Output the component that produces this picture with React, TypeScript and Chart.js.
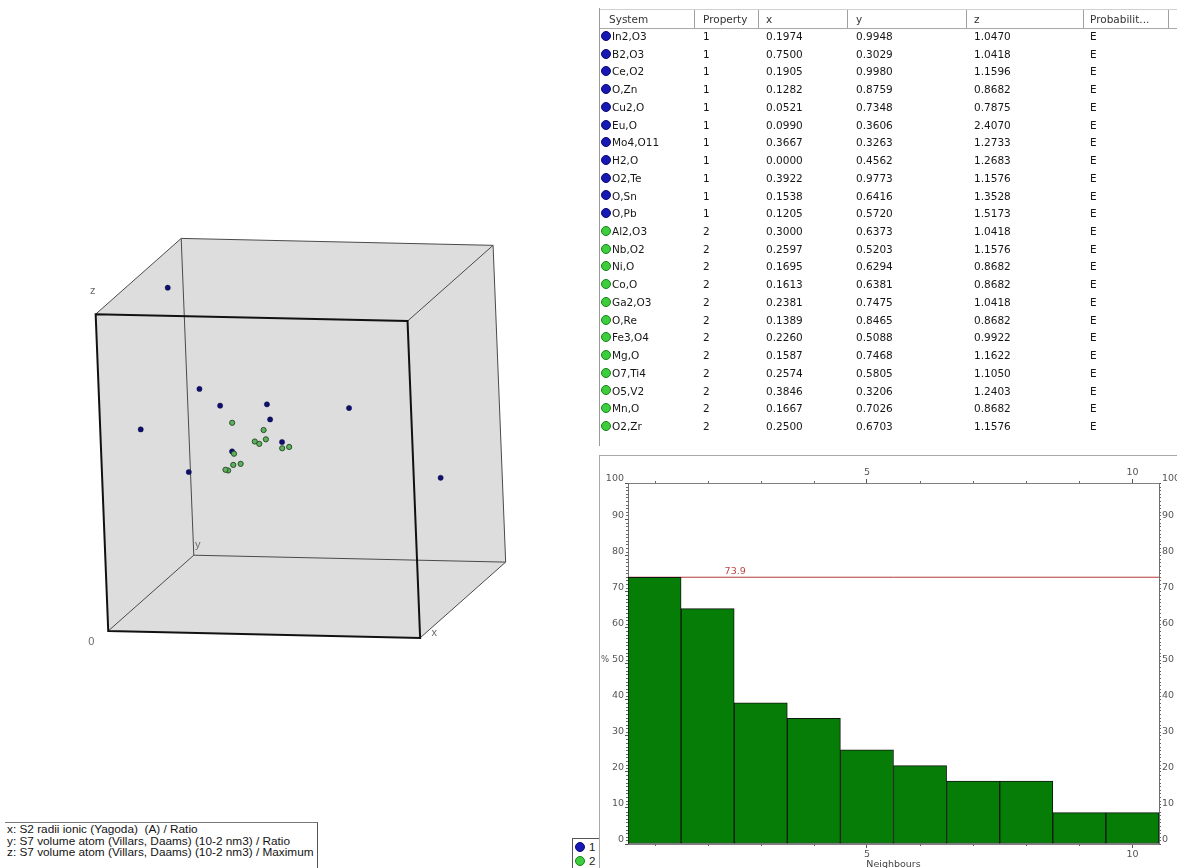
import { useEffect, useRef } from 'react';
import { Chart, registerables } from 'chart.js';

Chart.register(...registerables);
Chart.defaults.font.family = "'DejaVu Sans', Verdana, sans-serif";

// ---- structure / property data ----
const systems = ['In2,O3', 'B2,O3', 'Ce,O2', 'O,Zn', 'Cu2,O', 'Eu,O', 'Mo4,O11', 'H2,O', 'O2,Te', 'O,Sn', 'O,Pb', 'Al2,O3', 'Nb,O2', 'Ni,O', 'Co,O', 'Ga2,O3', 'O,Re', 'Fe3,O4', 'Mg,O', 'O7,Ti4', 'O5,V2', 'Mn,O', 'O2,Zr'];
const propertyClass = [1, 1, 1, 1, 1, 1, 1, 1, 1, 1, 1, 2, 2, 2, 2, 2, 2, 2, 2, 2, 2, 2, 2];
const radiiRatio = [0.1974, 0.75, 0.1905, 0.1282, 0.0521, 0.099, 0.3667, 0.0, 0.3922, 0.1538, 0.1205, 0.3, 0.2597, 0.1695, 0.1613, 0.2381, 0.1389, 0.226, 0.1587, 0.2574, 0.3846, 0.1667, 0.25];
const volumeRatio = [0.9948, 0.3029, 0.998, 0.8759, 0.7348, 0.3606, 0.3263, 0.4562, 0.9773, 0.6416, 0.572, 0.6373, 0.5203, 0.6294, 0.6381, 0.7475, 0.8465, 0.5088, 0.7468, 0.5805, 0.3206, 0.7026, 0.6703];
const volumeMaximum = [1.047, 1.0418, 1.1596, 0.8682, 0.7875, 2.407, 1.2733, 1.2683, 1.1576, 1.3528, 1.5173, 1.0418, 1.1576, 0.8682, 0.8682, 1.0418, 0.8682, 0.9922, 1.1622, 1.105, 1.2403, 0.8682, 1.1576];
const probabilityCode = ['E', 'E', 'E', 'E', 'E', 'E', 'E', 'E', 'E', 'E', 'E', 'E', 'E', 'E', 'E', 'E', 'E', 'E', 'E', 'E', 'E', 'E', 'E'];

const tableHeaders = ['System', 'Property', 'x', 'y', 'z', 'Probabilit...'];
const axisDescriptions = [
  'x: S2 radii ionic (Yagoda)  (A) / Ratio',
  'y: S7 volume atom (Villars, Daams) (10-2 nm3) / Ratio',
  'z: S7 volume atom (Villars, Daams) (10-2 nm3) / Maximum',
];
const groupKeys = [1, 2];

// ---- neighbour histogram data ----
const neighbours = [1, 2, 3, 4, 5, 6, 7, 8, 9, 10];
const neighbourShare = [73.9, 65.2, 39.1, 34.8, 26.1, 21.7, 17.4, 17.4, 8.7, 8.7];
const shareLevel = 73.9;
const percentTicks = [0, 10, 20, 30, 40, 50, 60, 70, 80, 90, 100];
const neighbourLabelTicks = [5, 10];

// ---- styles ----
const POINT_STYLE: Record<number, { fill: string; edge: string; radius: number; width: number }> = {
  1: { fill: '#10106c', edge: '#0a0a48', radius: 2.6, width: 0.5 },
  2: { fill: '#5fb05f', edge: '#2a4f2a', radius: 2.6, width: 1 },
};
const ICON_STYLE: Record<number, { fill: string; edge: string }> = {
  1: { fill: '#1818b4', edge: '#0b0b6e' },
  2: { fill: '#3cce3c', edge: '#1b7f1b' },
};
const TICK_FONT = { family: "'DejaVu Sans', Verdana, sans-serif", size: 9.5 };
const TICK_COLOR = '#555';

// Oblique view of the unit cube: origin and on-screen direction of each axis
const CUBE_VIEW = { origin: [105, 633.7], xDir: [317.2, 7], yDir: [87, -76.7], zDir: [-12.8, -320.7] };
const CUBE_W = 597;
const CUBE_H = 820;

const xMax = Math.max(...radiiRatio);
const yMax = Math.max(...volumeRatio);
const zMax = Math.max(...volumeMaximum);

function project(nx: number, ny: number, nz: number) {
  const v = CUBE_VIEW;
  return {
    x: v.origin[0] + v.xDir[0] * nx + v.yDir[0] * ny + v.zDir[0] * nz,
    y: v.origin[1] + v.xDir[1] * nx + v.yDir[1] * ny + v.zDir[1] * nz,
  };
}

const cubeFrame = {
  id: 'cubeFrame',
  beforeDatasetsDraw(chart: any) {
    const { ctx } = chart;
    const sx = chart.scales.x;
    const sy = chart.scales.y;
    const c = (i: number, j: number, k: number) => {
      const p = project(i, j, k);
      return [sx.getPixelForValue(p.x), sy.getPixelForValue(p.y)];
    };
    const FBL = c(0, 0, 0), FBR = c(1, 0, 0), FTL = c(0, 0, 1), FTR = c(1, 0, 1);
    const BBL = c(0, 1, 0), BBR = c(1, 1, 0), BTL = c(0, 1, 1), BTR = c(1, 1, 1);
    ctx.save();
    ctx.fillStyle = '#dddddd';
    ctx.beginPath();
    [FBL, FBR, BBR, BTR, BTL, FTL].forEach((p, i) => (i ? ctx.lineTo(p[0], p[1]) : ctx.moveTo(p[0], p[1])));
    ctx.closePath();
    ctx.fill();

    const seg = (a: number[], b: number[]) => {
      ctx.beginPath();
      ctx.moveTo(a[0], a[1]);
      ctx.lineTo(b[0], b[1]);
      ctx.stroke();
    };
    ctx.strokeStyle = '#4a4a4a';
    ctx.lineWidth = 1;
    seg(BTL, BTR); seg(BTR, BBR); seg(BBR, BBL); seg(BBL, BTL);
    seg(FTL, BTL); seg(FTR, BTR); seg(FBL, BBL); seg(FBR, BBR);

    ctx.strokeStyle = '#111';
    ctx.lineWidth = 2;
    ctx.beginPath();
    [FBL, FBR, FTR, FTL].forEach((p, i) => (i ? ctx.lineTo(p[0], p[1]) : ctx.moveTo(p[0], p[1])));
    ctx.closePath();
    ctx.stroke();

    ctx.fillStyle = '#6a6a6a';
    ctx.font = "11px 'Liberation Sans', Arial, sans-serif";
    ctx.textBaseline = 'middle';
    ctx.textAlign = 'center';
    ctx.fillText('z', FTL[0] - 3, FTL[1] - 23);
    ctx.fillText('0', FBL[0] - 17, FBL[1] + 11);
    ctx.fillText('x', FBR[0] + 14, FBR[1] - 5);
    ctx.fillText('y', BBL[0] + 4, BBL[1] - 10);
    ctx.restore();
  },
};

function CubeScatter() {
  const ref = useRef<HTMLCanvasElement>(null);
  useEffect(() => {
    if (!ref.current) return;
    const makeSet = (group: number) => {
      const st = POINT_STYLE[group];
      const data = systems
        .map((_, i) => ({ i }))
        .filter(({ i }) => propertyClass[i] === group)
        .map(({ i }) => project(radiiRatio[i] / xMax, volumeRatio[i] / yMax, volumeMaximum[i] / zMax));
      return {
        label: String(group),
        data,
        pointRadius: st.radius,
        pointBackgroundColor: st.fill,
        pointBorderColor: st.edge,
        pointBorderWidth: st.width,
        showLine: false,
      };
    };
    const chart = new Chart(ref.current, {
      type: 'scatter',
      data: { datasets: [makeSet(2), makeSet(1)] },
      options: {
        animation: false,
        responsive: false,
        devicePixelRatio: 1,
        layout: { padding: 0 },
        plugins: { legend: { display: false }, tooltip: { enabled: false } },
        scales: {
          x: { type: 'linear', min: 0, max: CUBE_W, display: false },
          y: { type: 'linear', min: 0, max: CUBE_H, reverse: true, display: false },
        },
      },
      plugins: [cubeFrame],
    });
    return () => chart.destroy();
  }, []);
  return <canvas ref={ref} width={CUBE_W} height={CUBE_H} style={{ position: 'absolute', left: 0, top: 0, width: CUBE_W, height: CUBE_H }} />;
}

const histogramDecor = {
  id: 'histogramDecor',
  afterDraw(chart: any) {
    const { ctx, chartArea } = chart;
    const xb = chart.scales.x;
    const yl = chart.scales.y;
    ctx.save();
    ctx.strokeStyle = '#666';
    ctx.lineWidth = 1;
    // minor ticks on the percentage axes
    for (let v = 0; v <= 100; v++) {
      if (v % 10 === 0) continue;
      const py = Math.round(yl.getPixelForValue(v)) + 0.5;
      ctx.beginPath();
      ctx.moveTo(chartArea.left - 2, py);
      ctx.lineTo(chartArea.left, py);
      ctx.moveTo(chartArea.right, py);
      ctx.lineTo(chartArea.right + 2, py);
      ctx.stroke();
    }
    // minor ticks on the neighbour axes
    neighbours.forEach((n) => {
      if (neighbourLabelTicks.includes(n)) return;
      const px = Math.round(xb.getPixelForValue(n)) + 0.5;
      ctx.beginPath();
      ctx.moveTo(px, chartArea.top - 2);
      ctx.lineTo(px, chartArea.top);
      ctx.moveTo(px, chartArea.bottom);
      ctx.lineTo(px, chartArea.bottom + 2);
      ctx.stroke();
    });
    ctx.font = "9.5px 'DejaVu Sans', Verdana, sans-serif";
    ctx.fillStyle = '#bb4444';
    ctx.textAlign = 'center';
    ctx.textBaseline = 'bottom';
    ctx.fillText(shareLevel.toFixed(1), xb.getPixelForValue(2.5) + 1, yl.getPixelForValue(shareLevel) - 1);
    ctx.fillStyle = TICK_COLOR;
    ctx.font = "8.5px 'DejaVu Sans', Verdana, sans-serif";
    ctx.textAlign = 'left';
    ctx.textBaseline = 'middle';
    ctx.fillText('%', chartArea.left - 27, yl.getPixelForValue(50) - 4);
    ctx.restore();
  },
};

function NeighbourHistogram() {
  const ref = useRef<HTMLCanvasElement>(null);
  useEffect(() => {
    if (!ref.current) return;
    const xAxis = (position: 'top' | 'bottom', height: number) => ({
      type: 'linear' as const,
      position,
      min: 0.5,
      max: 10.5,
      offset: false,
      afterBuildTicks: (s: any) => {
        s.ticks = neighbourLabelTicks.map((v) => ({ value: v }));
      },
      afterFit: (s: any) => {
        s.height = height;
      },
      ticks: { font: TICK_FONT, color: TICK_COLOR, padding: 1, maxRotation: 0, autoSkip: false },
      grid: { drawOnChartArea: false, offset: false, tickLength: 4, tickColor: '#555' },
      border: { color: '#808080' },
    });
    const yAxis = (position: 'left' | 'right', width: number) => ({
      type: 'linear' as const,
      position,
      min: 0,
      max: 100,
      afterBuildTicks: (s: any) => {
        s.ticks = percentTicks.map((v) => ({ value: v }));
      },
      afterFit: (s: any) => {
        s.width = width;
      },
      ticks: { font: TICK_FONT, color: TICK_COLOR, padding: 1, labelOffset: -4, autoSkip: false },
      grid: { drawOnChartArea: false, tickLength: position === 'left' ? 3 : 2, tickColor: '#555' },
      border: { color: '#707070' },
    });
    const bottom = xAxis('bottom', 26) as any;
    bottom.title = { display: true, text: 'Neighbours', font: TICK_FONT, color: '#444', padding: 0 };
    const chart = new Chart(ref.current, {
      type: 'bar',
      data: {
        datasets: [
          {
            type: 'bar',
            data: neighbours.map((n, i) => ({ x: n, y: neighbourShare[i] })),
            backgroundColor: '#067d06',
            borderColor: '#101810',
            borderWidth: 1,
            borderSkipped: false,
            barPercentage: 1,
            categoryPercentage: 1,
            xAxisID: 'x',
            yAxisID: 'y',
            order: 0,
          } as any,
          {
            type: 'line',
            data: [
              { x: 0.5, y: shareLevel },
              { x: 10.5, y: shareLevel },
            ],
            borderColor: '#b83a3a',
            borderWidth: 1,
            pointRadius: 0,
            xAxisID: 'x',
            yAxisID: 'y',
            order: 1,
          } as any,
        ],
      },
      options: {
        animation: false,
        responsive: false,
        devicePixelRatio: 1,
        layout: { padding: 0 },
        plugins: { legend: { display: false }, tooltip: { enabled: false } },
        scales: {
          x: bottom,
          x2: xAxis('top', 27),
          y: yAxis('left', 27),
          y2: yAxis('right', 18),
        } as any,
      },
      plugins: [histogramDecor],
    });
    return () => chart.destroy();
  }, []);
  return <canvas ref={ref} width={576} height={414} style={{ position: 'absolute', left: 601, top: 456, width: 576, height: 414 }} />;
}

const TABLE_COLS = [
  { left: 601, width: 95, pad: 8 },
  { left: 696, width: 64, pad: 7 },
  { left: 760, width: 89, pad: 6 },
  { left: 849, width: 119, pad: 7 },
  { left: 968, width: 117, pad: 6 },
  { left: 1085, width: 85, pad: 5 },
];
const ROW_TOP = 28;
const ROW_H = 17.73;
const TABLE_FONT = "10.5px 'DejaVu Sans', Verdana, sans-serif";

function GroupIcon({ group, size, left, top }: { group: number; size: number; left: number; top: number }) {
  const st = ICON_STYLE[group];
  return (
    <span
      style={{
        position: 'absolute',
        left,
        top,
        width: size,
        height: size,
        boxSizing: 'border-box',
        borderRadius: '50%',
        background: st.fill,
        border: `1px solid ${st.edge}`,
      }}
    />
  );
}

function SystemsTable() {
  return (
    <div style={{ position: 'absolute', left: 0, top: 0, width: 1177, height: 450, font: TABLE_FONT, color: '#161616' }}>
      <div style={{ position: 'absolute', left: 599, top: 8, width: 1, height: 438, background: '#9a9a9a' }} />
      <div style={{ position: 'absolute', left: 600, top: 9, width: 577, height: 18, borderTop: '1px solid #d0d0d0', borderBottom: '1px solid #a8a8a8' }} />
      {tableHeaders.map((h, c) => (
        <div
          key={h}
          style={{
            position: 'absolute',
            left: TABLE_COLS[c].left,
            top: 10,
            width: TABLE_COLS[c].width - 1,
            height: 18,
            borderRight: '1px solid #a0a0a0',
            lineHeight: '18px',
            paddingLeft: TABLE_COLS[c].pad,
            boxSizing: 'border-box',
            color: '#333',
            whiteSpace: 'nowrap',
          }}
        >
          {h}
        </div>
      ))}
      {systems.map((s, i) => {
        const top = ROW_TOP + i * ROW_H;
        const cells = [
          String(propertyClass[i]),
          radiiRatio[i].toFixed(4),
          volumeRatio[i].toFixed(4),
          volumeMaximum[i].toFixed(4),
          probabilityCode[i],
        ];
        return (
          <div key={s} style={{ position: 'absolute', left: 0, top, width: 1177, height: ROW_H, lineHeight: `${ROW_H}px` }}>
            <GroupIcon group={propertyClass[i]} size={10} left={601} top={(ROW_H - 10) / 2 - 1} />
            <span style={{ position: 'absolute', left: 612, whiteSpace: 'nowrap' }}>{s}</span>
            {cells.map((t, c) => (
              <span key={c} style={{ position: 'absolute', left: TABLE_COLS[c + 1].left + TABLE_COLS[c + 1].pad, whiteSpace: 'nowrap' }}>
                {t}
              </span>
            ))}
          </div>
        );
      })}
    </div>
  );
}

function AxisNote() {
  return (
    <div
      style={{
        position: 'absolute',
        left: 5,
        top: 822,
        width: 313,
        height: 60,
        borderTop: '1px solid #777',
        borderRight: '1px solid #555',
        boxSizing: 'border-box',
        font: "11.8px 'Liberation Sans', Arial, sans-serif",
        lineHeight: '11.6px',
        color: '#141414',
        paddingLeft: 2,
        paddingTop: 1,
        whiteSpace: 'pre',
        overflow: 'hidden',
      }}
    >
      {axisDescriptions.map((t) => (
        <div key={t}>{t}</div>
      ))}
    </div>
  );
}

function GroupKey() {
  return (
    <div
      style={{
        position: 'absolute',
        left: 572,
        top: 838,
        width: 28,
        height: 32,
        borderLeft: '1px solid #555',
        borderTop: '1px solid #555',
        boxSizing: 'border-box',
        font: "11.5px 'Liberation Sans', Arial, sans-serif",
        color: '#222',
      }}
    >
      {groupKeys.map((g, i) => (
        <div key={g} style={{ position: 'absolute', left: 0, top: 2 + i * 14, width: 27, height: 13, lineHeight: '13px' }}>
          <GroupIcon group={g} size={10} left={2} top={1} />
          <span style={{ position: 'absolute', left: 16 }}>{g}</span>
        </div>
      ))}
    </div>
  );
}

export default function App() {
  return (
    <div style={{ position: 'fixed', left: 0, top: 0, width: 1177, height: 868, overflow: 'hidden', background: '#fff' }}>
      <CubeScatter />
      <AxisNote />
      <GroupKey />
      <SystemsTable />
      <div style={{ position: 'absolute', left: 599, top: 455, width: 600, height: 420, borderTop: '1px solid #a8a8a8', borderLeft: '1px solid #a8a8a8' }} />
      <NeighbourHistogram />
    </div>
  );
}
